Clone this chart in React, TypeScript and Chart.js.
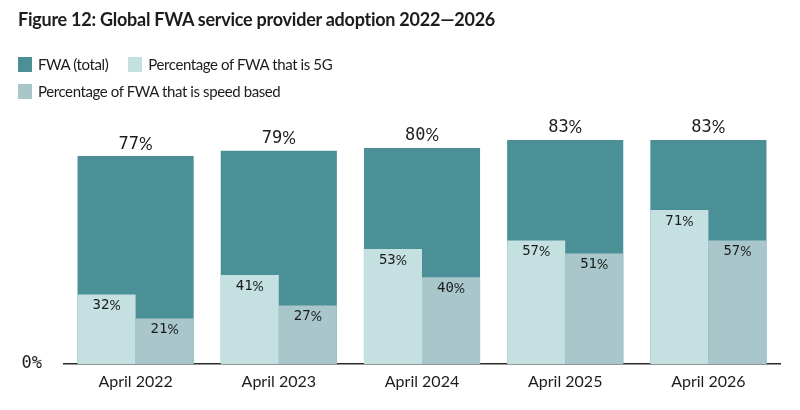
import { useEffect, useRef } from "react";
import { Chart, registerables } from "chart.js";

Chart.register(...registerables);

// Survey periods and the adoption shares per period (percent)
const categories = ["April 2022", "April 2023", "April 2024", "April 2025", "April 2026"];
const fwaTotal = [77, 79, 80, 83, 83];
const fwa5G = [32, 41, 53, 57, 71];
const fwaSpeedBased = [21, 27, 40, 51, 57];
const seriesNames = [
  "FWA (total)",
  "Percentage of FWA that is 5G",
  "Percentage of FWA that is speed based",
];
const yTickValues = [0];

const COLORS = {
  total: "#4b9096",
  fiveG: "#c5e0e1",
  speed: "#a9c7cb",
  text: "#1c1c1c",
  axis: "#2a2a2a",
};

const TEXT_FONT = "Lato, 'Noto Sans', sans-serif";
const NUM_FONT = "'DejaVu Sans Mono', monospace";

// Draws "<n>%" centred on x: digits in the numeric face, the sign in the text face
function drawPercent(ctx: CanvasRenderingContext2D, value: number, x: number, y: number, size: number) {
  const digits = String(value);
  ctx.font = `${size}px ${NUM_FONT}`;
  const wDigits = ctx.measureText(digits).width;
  ctx.font = `${size}px ${TEXT_FONT}`;
  const wPct = ctx.measureText("%").width;
  const start = x - (wDigits + wPct) / 2;
  ctx.textAlign = "left";
  ctx.textBaseline = "middle";
  ctx.font = `${size}px ${NUM_FONT}`;
  ctx.fillText(digits, start, y);
  ctx.font = `${size}px ${TEXT_FONT}`;
  ctx.fillText("%", start + wDigits, y);
}

// Percent labels: above the total bars, just inside the top of the share bars
const valueLabels = {
  id: "valueLabels",
  afterDatasetsDraw(chart: any) {
    const ctx = chart.ctx as CanvasRenderingContext2D;
    chart.data.datasets.forEach((ds: any, i: number) => {
      const meta = chart.getDatasetMeta(i);
      meta.data.forEach((bar: any, j: number) => {
        const v = ds.data[j];
        ctx.save();
        ctx.fillStyle = COLORS.text;
        if (ds.yAxisID === "y") {
          drawPercent(ctx, v, bar.x, bar.y - 12, 17);
        } else {
          drawPercent(ctx, v, bar.x, bar.y + 11, 14);
        }
        ctx.restore();
      });
    });
  },
};

const legendColors = [COLORS.total, COLORS.fiveG, COLORS.speed];

function LegendItem({ index }: { index: number }) {
  return (
    <div style={{ display: "flex", alignItems: "center", marginRight: 20 }}>
      <span
        style={{
          display: "inline-block",
          width: 14,
          height: 15,
          background: legendColors[index],
          marginRight: 6,
        }}
      />
      <span>{seriesNames[index]}</span>
    </div>
  );
}

export default function App() {
  const canvasRef = useRef<HTMLCanvasElement | null>(null);

  useEffect(() => {
    const canvas = canvasRef.current;
    if (!canvas) return;
    const chart = new Chart(canvas, {
      type: "bar",
      data: {
        labels: categories,
        datasets: [
          {
            // wide backdrop bar, centred on its category
            label: seriesNames[0],
            data: fwaTotal,
            backgroundColor: COLORS.total,
            yAxisID: "y",
            grouped: false,
            categoryPercentage: 1,
            barPercentage: 0.811,
            order: 2,
          },
          {
            label: seriesNames[1],
            data: fwa5G,
            backgroundColor: COLORS.fiveG,
            yAxisID: "y2",
            categoryPercentage: 0.811,
            barPercentage: 1,
            order: 0,
          },
          {
            label: seriesNames[2],
            data: fwaSpeedBased,
            backgroundColor: COLORS.speed,
            yAxisID: "y2",
            categoryPercentage: 0.811,
            barPercentage: 1,
            order: 1,
          },
        ],
      },
      options: {
        animation: false,
        responsive: false,
        maintainAspectRatio: false,
        layout: { padding: { top: 94, right: 20, left: 0, bottom: 0 } },
        plugins: {
          legend: { display: false },
          tooltip: { enabled: false },
        },
        scales: {
          x: {
            type: "category",
            offset: true,
            grid: { display: false, drawTicks: false },
            border: { display: true, color: COLORS.axis, width: 1.5 },
            ticks: {
              color: COLORS.text,
              font: { family: TEXT_FONT, size: 16 },
              padding: 8,
            },
            afterFit: (s: any) => {
              s.height = 46;
            },
          },
          y: {
            min: 0,
            max: 100,
            grid: { display: false, drawTicks: false },
            border: { display: false },
            ticks: {
              color: COLORS.text,
              font: { family: NUM_FONT, size: 17 },
              padding: 22,
              callback: (v: any) => `${v}%`,
            },
            afterBuildTicks: (s: any) => {
              s.ticks = yTickValues.map((value) => ({ value }));
            },
            afterFit: (s: any) => {
              s.width = 64;
            },
          },
          y2: { display: false, min: 0, max: 124.5 },
        },
      },
      plugins: [valueLabels],
    });
    return () => chart.destroy();
  }, []);

  return (
    <div
      style={{
        position: "fixed",
        left: 0,
        top: 0,
        width: 800,
        height: 410,
        background: "#ffffff",
        color: COLORS.text,
        fontFamily: TEXT_FONT,
        overflow: "hidden",
      }}
    >
      <canvas ref={canvasRef} width={800} height={410} style={{ position: "absolute", left: 0, top: 0 }} />
      <div
        style={{
          position: "absolute",
          left: 18,
          top: 5,
          fontSize: 18,
          fontWeight: 700,
          letterSpacing: "-0.25px",
          lineHeight: "28px",
          whiteSpace: "nowrap",
        }}
      >
        Figure 12: Global FWA service provider adoption 2022—2026
      </div>
      <div
        style={{
          position: "absolute",
          left: 18,
          top: 51,
          fontSize: 15,
          letterSpacing: "-0.4px",
          lineHeight: "27px",
          whiteSpace: "nowrap",
        }}
      >
        <div style={{ display: "flex", height: 27 }}>
          <LegendItem index={0} />
          <LegendItem index={1} />
        </div>
        <div style={{ display: "flex", height: 27 }}>
          <LegendItem index={2} />
        </div>
      </div>
    </div>
  );
}
